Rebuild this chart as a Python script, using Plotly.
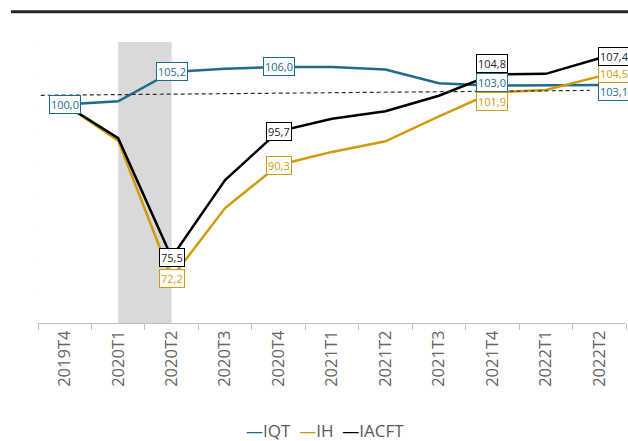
import plotly.graph_objects as go

categories = ["2019T4", "2020T1", "2020T2", "2020T3", "2020T4", "2021T1",
              "2021T2", "2021T3", "2021T4", "2022T1", "2022T2"]
iqt = [100.0, 100.5, 105.2, 105.7, 106.0, 106.0, 105.6, 103.4, 103.0, 103.0, 103.1]
ih = [100.0, 94.2, 72.2, 83.4, 90.3, 92.4, 94.1, 98.1, 101.9, 102.3, 104.5]
iacft = [100.0, 94.6, 75.5, 87.9, 95.7, 97.7, 98.9, 101.4, 104.8, 104.9, 107.4]

# labelled points: (category index, label offset x, offset y in px)
iqt_labels = [(0, 0, 0), (2, 0, 0), (4, 0, 0), (8, 0, -3), (10, 15, 6)]
ih_labels = [(2, 0, 0), (4, 0, 0), (8, 0, 9), (10, 15, -3)]
iacft_labels = [(2, 0, 0), (4, 0, 0), (8, 0, -11), (10, 15, -2)]

shaded_period = (1, 2)          # category indices 2020T1 .. 2020T2
ref_line_x = [-0.58, 9.82]      # dashed reference line
ref_line_y = [101.45, 102.25]

C_IQT = "#1F6B8B"
C_IH = "#D09B0A"
C_IACFT = "#000000"
GREY_TXT = "#595959"

fig = go.Figure()
for name, vals, col in [("IQT", iqt, C_IQT), ("IH", ih, C_IH), ("IACFT", iacft, C_IACFT)]:
    fig.add_trace(go.Scatter(x=categories, y=vals, mode="lines", name=name,
                             line=dict(color=col, width=2.5), showlegend=False))

fig.add_shape(type="rect", xref="x", yref="paper",
              x0=shaded_period[0], x1=shaded_period[1], y0=0, y1=1,
              fillcolor="#D9D9D9", line=dict(width=0), layer="below")
fig.add_shape(type="line", xref="x", yref="y",
              x0=ref_line_x[0], x1=ref_line_x[1], y0=ref_line_y[0], y1=ref_line_y[1],
              line=dict(color="#303030", width=1.2, dash="4px,3px"))
# top rule
fig.add_shape(type="line", xref="paper", yref="paper",
              x0=-0.046, x1=1.01, y0=1.108, y1=1.108,
              line=dict(color="#262626", width=3))

def add_labels(vals, labels, col, txtcol):
    for i, dx, dy in labels:
        fig.add_annotation(x=categories[i], y=vals[i], xref="x", yref="y",
                           text=f"{vals[i]:.1f}".replace(".", ","),
                           showarrow=False, xshift=dx, yshift=-dy,
                           font=dict(family="Open Sans", size=11, color=txtcol),
                           bgcolor="white", bordercolor=col, borderwidth=1, borderpad=1)

add_labels(iqt, iqt_labels, C_IQT, C_IQT)
add_labels(ih, ih_labels, C_IH, C_IH)
add_labels(iacft, iacft_labels, "#000000", "#262626")

legend_html = (f"<span style='color:{C_IQT}'>—</span>IQT  "
               f"<span style='color:{C_IH}'>—</span>IH  "
               f"<span style='color:{C_IACFT}'>—</span>IACFT")
fig.add_annotation(x=0.488, y=-0.381, xref="paper", yref="paper", text=legend_html,
                   showarrow=False, xanchor="center", yanchor="middle",
                   font=dict(family="Open Sans", size=17, color=GREY_TXT))

fig.update_layout(
    width=628, height=441,
    margin=dict(l=38, r=2, t=42, b=118),
    paper_bgcolor="white", plot_bgcolor="white",
    xaxis=dict(type="category", tickson="boundaries", ticks="outside", ticklen=6,
               tickcolor="#BFBFBF", showline=True, linecolor="#BFBFBF", linewidth=1,
               showgrid=False, tickangle=-90, range=[-0.5, 10.5],
               tickfont=dict(family="Open Sans", size=16.5, color="#666666")),
    yaxis=dict(range=[65, 110], dtick=5, showgrid=False, zeroline=False,
               showticklabels=False, ticks="outside", ticklen=1, tickcolor="#E6E6E6",
               showline=False),
)

fig.write_html("out.html")
